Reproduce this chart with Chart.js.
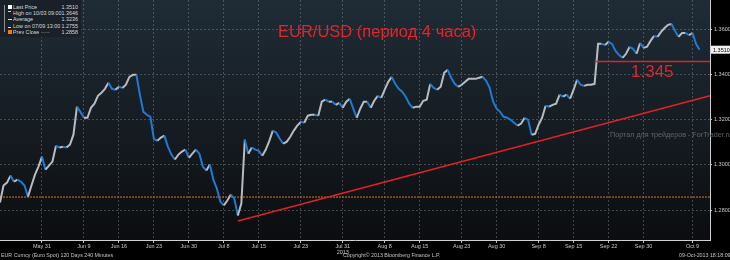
<!DOCTYPE html>
<html>
<head>
<meta charset="utf-8">
<script src="https://cdn.jsdelivr.net/npm/chart.js@4.4.0/dist/chart.umd.min.js"></script>
<style>
  html, body { margin: 0; padding: 0; background: #000; }
  #wrap { position: relative; width: 730px; height: 260px; overflow: hidden; font-family: "Liberation Sans", Arial, sans-serif; }
  #chart { position: absolute; left: 0; top: 0; }
  .txt { position: absolute; white-space: nowrap; line-height: 1; }
  #title { left: 278px; top: 23px; font-size: 16.5px; color: #e3242b; }
  #level { left: 631px; top: 63px; font-size: 17px; color: #e3242b; }
  #mark { left: 610px; top: 131px; font-size: 7.2px; color: #5e656b; }
  .foot { top: 253px; font-size: 5.3px; color: #c4c4c4; }
  #legend { position: absolute; left: 0; top: 0; width: 81px; height: 37px; background: #1a2027; border-radius: 0 0 3px 0; }
  #legend .row { position: absolute; left: 0; width: 81px; height: 6px; font-size: 5.4px; line-height: 6px; color: #d8d8d8; }
  #legend .lb { position: absolute; left: 13px; }
  #legend .val { position: absolute; right: 3px; }
  #legend .ic { position: absolute; left: 8px; top: 1px; width: 4px; height: 4px; }
  #tree { position: absolute; left: 4px; top: 5px; width: 1px; height: 27px; background: #8a8f94; }
</style>
</head>
<body>
<div id="wrap">
  <canvas id="chart" width="730" height="260"></canvas>
  <div id="legend">
    <div id="tree"></div>
    <div class="row" style="top:4px"><span class="ic" style="background:#fff"></span><span class="lb">Last Price</span><span class="val">1.3510</span></div>
    <div class="row" style="top:10px"><span class="ic" style="border-top:1px solid #ddd;width:3px;height:0;top:1px"></span><span class="lb">High on 10/03 09:00</span><span class="val">1.3646</span></div>
    <div class="row" style="top:16px"><span class="ic" style="border-top:1px solid #ddd;width:4px;height:0;top:3px"></span><span class="lb">Average</span><span class="val">1.3236</span></div>
    <div class="row" style="top:22.5px"><span class="ic" style="border-bottom:1px solid #ddd;width:3px;height:0;top:4px"></span><span class="lb">Low on 07/09 13:00</span><span class="val">1.2755</span></div>
    <div class="row" style="top:29px"><span class="ic" style="background:#f07d14"></span><span class="lb">Prev Close <span style="color:#888">-----</span></span><span class="val">1.2858</span></div>
  </div>
  <div class="txt" id="title">EUR/USD (период 4 часа)</div>
  <div class="txt" id="level">1.345</div>
  <div class="txt" id="mark">Портал для трейдеров - ForTrader.ru</div>
  <div class="txt foot" style="left:1px">EUR Curncy (Euro Spot) 120 Days 240 Minutes</div>
  <div class="txt foot" style="left:343px">Copyright© 2013 Bloomberg Finance L.P.</div>
  <div class="txt foot" style="left:679px">09-Oct-2013 18:18:09</div>
</div>
<script>
// Цены закрытия (4-часовые бары, примерно 2 точки на торговый день)
const closePrices = [
  1.2834, 1.2909, 1.2922, 1.2953, 1.2926, 1.2935, 1.2926, 1.2909, 1.2860, 1.2909,
  1.2957, 1.2993, 1.3037, 1.2979, 1.2997, 1.3015, 1.3085, 1.3077, 1.3081, 1.3077,
  1.3090, 1.3134, 1.3258, 1.3235, 1.3209, 1.3209, 1.3253, 1.3271, 1.3306, 1.3319,
  1.3337, 1.3364, 1.3337, 1.3333, 1.3346, 1.3341, 1.3355, 1.3390, 1.3399, 1.3399,
  1.3311, 1.3235, 1.3222, 1.3213, 1.3116, 1.3107, 1.3121, 1.3130, 1.3081, 1.3046,
  1.3024, 1.3046, 1.3059, 1.3068, 1.3032, 1.3050, 1.3068, 1.3050, 1.2993, 1.2975,
  1.3002, 1.2935, 1.2896, 1.2838, 1.2821, 1.2843, 1.2869, 1.2851, 1.2776, 1.2829,
  1.3112, 1.3050, 1.3077, 1.3068, 1.3063, 1.3041, 1.3068, 1.3107, 1.3152, 1.3143,
  1.3116, 1.3094, 1.3103, 1.3125, 1.3152, 1.3174, 1.3191, 1.3187, 1.3218, 1.3222,
  1.3222, 1.3218, 1.3280, 1.3289, 1.3280, 1.3280, 1.3266, 1.3275, 1.3253, 1.3280,
  1.3293, 1.3249, 1.3209, 1.3249, 1.3280, 1.3280, 1.3253, 1.3284, 1.3306, 1.3297,
  1.3333, 1.3368, 1.3390, 1.3359, 1.3337, 1.3324, 1.3302, 1.3271, 1.3253, 1.3258,
  1.3258, 1.3284, 1.3289, 1.3359, 1.3341, 1.3333, 1.3346, 1.3408, 1.3421, 1.3386,
  1.3359, 1.3346, 1.3355, 1.3368, 1.3381, 1.3381, 1.3381, 1.3386, 1.3390, 1.3372,
  1.3341, 1.3280, 1.3249, 1.3235, 1.3213, 1.3209, 1.3200, 1.3187, 1.3174, 1.3183,
  1.3209, 1.3200, 1.3134, 1.3138, 1.3178, 1.3209, 1.3262, 1.3258, 1.3266, 1.3271,
  1.3311, 1.3302, 1.3311, 1.3293, 1.3333, 1.3377, 1.3355, 1.3350, 1.3355, 1.3355,
  1.3359, 1.3536, 1.3536, 1.3531, 1.3545, 1.3536, 1.3505, 1.3487, 1.3474, 1.3492,
  1.3523, 1.3514, 1.3492, 1.3540, 1.3518, 1.3523, 1.3549, 1.3571, 1.3567, 1.3589,
  1.3606, 1.3620, 1.3624, 1.3593, 1.3567, 1.3584, 1.3584, 1.3575, 1.3584, 1.3536,
  1.3510
];

// Подписи оси X и слоты, в которых они стоят
const tickNames = ['May 31', 'Jun 9', 'Jun 16', 'Jun 23', 'Jun 30', 'Jul 8', 'Jul 15', 'Jul 23',
  ['Jul 31', '2013'], 'Aug 8', 'Aug 15', 'Aug 23', 'Aug 30', 'Sep 8', 'Sep 15', 'Sep 22', 'Sep 30', 'Oct 9'];
const tickSlots = [12, 24, 34, 44, 54, 64, 74, 86, 98, 110, 120, 132, 142, 154, 164, 174, 184, 198];
const slotCount = 204;

const yTicks = [1.28, 1.30, 1.32, 1.34, 1.36];
const prevClose = 1.2858;

// Линия тренда и уровень сопротивления
const trendSlots = [68, 203];
const trendValues = [1.2752, 1.3306];
const levelSlots = [170, 203];
const levelValue = 1.3458;

const labels = new Array(slotCount).fill('');
tickSlots.forEach((s, i) => { labels[s] = tickNames[i]; });

function segmentLine(slots, values) {
    const arr = new Array(slotCount).fill(null);
    slots.forEach((s, i) => { arr[s] = values[i]; });
    return arr;
}

const bgPlugin = {
    id: 'bg',
    beforeDraw(chart) {
        const { ctx, chartArea: a } = chart;
        ctx.save();
        ctx.fillStyle = '#000';
        ctx.fillRect(0, 0, chart.width, chart.height);
        const g = ctx.createLinearGradient(0, a.top, 0, a.bottom);
        g.addColorStop(0, '#1f2c36');
        g.addColorStop(0.5, '#161d23');
        g.addColorStop(1, '#0b0d0f');
        ctx.fillStyle = g;
        ctx.fillRect(a.left, a.top, a.right - a.left, a.bottom - a.top);
        ctx.restore();
    },
    afterDraw(chart) {
        // табличка с последней ценой на правой оси
        const { ctx, chartArea: a } = chart;
        const last = closePrices[closePrices.length - 1];
        const y = chart.scales.y.getPixelForValue(last);
        ctx.save();
        ctx.fillStyle = '#f2f2f2';
        ctx.fillRect(a.right + 1, y - 4, 19, 8);
        ctx.fillStyle = '#000';
        ctx.font = '5.5px "Liberation Sans", Arial';
        ctx.textBaseline = 'middle';
        ctx.fillText(last.toFixed(4), a.right + 3, y + 0.5);
        ctx.restore();
    }
};

const ctxChart = document.getElementById('chart').getContext('2d');
const priceChart = new Chart(ctxChart, {
    type: 'line',
    data: {
        labels: labels,
        datasets: [
            {
                label: 'Trend',
                data: segmentLine(trendSlots, trendValues),
                borderColor: '#e0202a',
                borderWidth: 1.6,
                pointRadius: 0,
                spanGaps: true,
                order: 0
            },
            {
                label: 'Level',
                data: segmentLine(levelSlots, [levelValue, levelValue]),
                borderColor: '#e0202a',
                borderWidth: 1.4,
                pointRadius: 0,
                spanGaps: true,
                order: 1
            },
            {
                label: 'Last Price',
                data: closePrices,
                borderColor: '#b8bcc0',
                borderWidth: 2,
                pointRadius: 0,
                tension: 0,
                segment: {
                    borderColor: c => c.p1.parsed.y < c.p0.parsed.y ? '#2079d6' : '#b8bcc0'
                },
                order: 2
            },
            {
                label: 'Prev Close',
                data: segmentLine([0, slotCount - 1], [prevClose, prevClose]),
                borderColor: '#d9781c',
                borderWidth: 1,
                borderDash: [2, 1],
                pointRadius: 0,
                spanGaps: true,
                order: 3
            }
        ]
    },
    options: {
        responsive: false,
        animation: false,
        layout: { padding: 0 },
        plugins: {
            legend: { display: false },
            tooltip: { enabled: false }
        },
        scales: {
            x: {
                offset: false,
                afterFit: s => { s.height = 20; s.paddingLeft = 0; s.paddingRight = 0; },
                grid: {
                    color: 'rgba(125,135,145,0.45)',
                    tickColor: '#bbb',
                    tickLength: 3,
                    drawOnChartArea: true
                },
                border: { color: '#cfcfcf', dash: [2, 2] },
                ticks: {
                    autoSkip: false,
                    maxRotation: 0,
                    padding: 0,
                    color: '#c8c8c8',
                    font: { size: 5.5, family: '"Liberation Sans", Arial' },
                    callback: function (v, i) { return labels[i] === '' ? null : labels[i]; }
                }
            },
            y: {
                position: 'right',
                min: 1.2668,
                max: 1.3730,
                afterFit: s => { s.width = 20; s.paddingTop = 0; s.paddingBottom = 0; },
                afterBuildTicks: s => { s.ticks = yTicks.map(v => ({ value: v })); },
                grid: {
                    color: 'rgba(125,135,145,0.45)',
                    tickColor: '#bbb',
                    tickLength: 2
                },
                border: { color: '#cfcfcf', dash: [2, 2] },
                ticks: {
                    padding: 2,
                    color: '#c8c8c8',
                    font: { size: 5.5, family: '"Liberation Sans", Arial' },
                    callback: v => v.toFixed(4)
                }
            }
        }
    },
    plugins: [bgPlugin]
});
</script>
</body>
</html>
